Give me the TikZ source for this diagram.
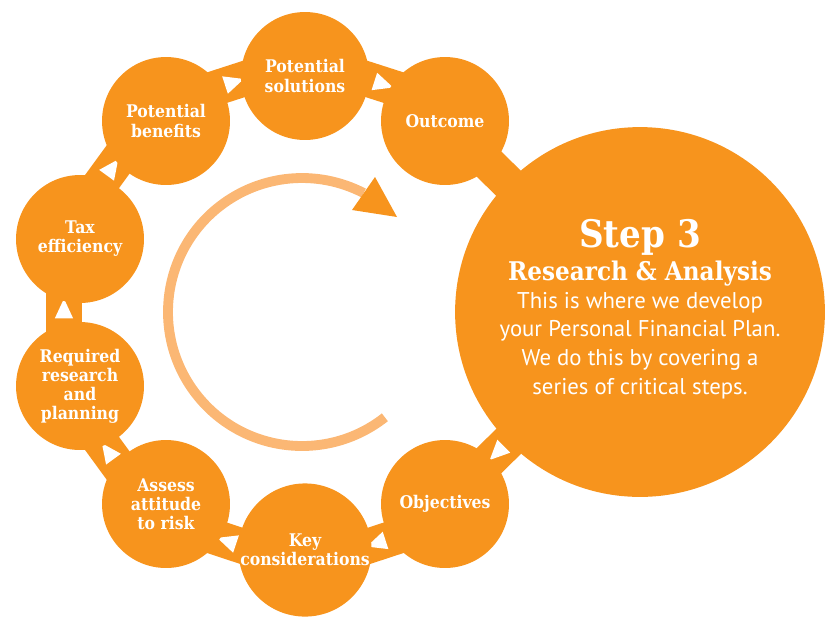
\documentclass[tikz,border=0pt]{standalone}
\usepackage{fontspec}
\usetikzlibrary{calc,shapes.geometric,backgrounds}
\newfontfamily\slabfont{DejaVu Serif Condensed}
\newfontfamily\plainfont{PT Sans}
\definecolor{stepOrange}{HTML}{F7941D}
\definecolor{ringOrange}{HTML}{FBB774}
\def\ringoff{11.4pt}
\def\ringlink(#1)(#2){\draw[band] ($(#1.center)!\ringoff!90:(#2.center)$) -- node[notch] {} ($(#2.center)!\ringoff!-90:(#1.center)$);}

\tikzset{
  stage/.style={circle, fill=stepOrange, minimum size=91pt, inner sep=0pt, text=white, align=center,
    font=\slabfont\bfseries\fontsize{12.4}{13.6}\selectfont},
  band/.style={line width=25pt, stepOrange},
  notch/.style={isosceles triangle, isosceles triangle stretches, fill=white, inner sep=0pt,
    minimum width=13pt, minimum height=14pt, sloped, allow upside down},
  steptext/.style={anchor=base, text=white, inner sep=0pt},
}

\begin{document}
\begin{tikzpicture}[x=0.025cm, y=-0.025cm]
	\useasboundingbox (0,0) rectangle (840,632);
	
	%%%%% stages %%%%%
	\node[stage] (sol) at (305,76) {Potential\\solutions};
	\node[stage] (ben) at (166,121) {Potential\\benefits};
	\node[stage] (tax) at (80,239) {Tax\\efficiency};
	\node[stage] (req) at (80,386) {Required\\research\\and\\planning};
	\node[stage] (ass) at (166,504) {Assess\\attitude\\to risk};
	\node[stage] (key) at (305,550) {Key\\considerations};
	\node[stage] (obj) at (445,504) {Objectives};
	\node[stage] (out) at (445,121) {Outcome};
	\node[stage, minimum size=263pt] (step) at (640,312) {};
	
	%%%%% step 3 text %%%%%
	\node[steptext, font=\slabfont\bfseries\fontsize{27}{27}\selectfont] (steptitle) at (640,247) {Step 3};
	\node[steptext, font=\slabfont\bfseries\fontsize{18.3}{18.3}\selectfont] (stepsub) at (640,280) {Research \& Analysis};
	\foreach \txt [count=\i] in {This is where we develop, your Personal Financial Plan., We do this by covering a, series of critical steps.}
		\node[steptext, font=\plainfont\fontsize{16.2}{16.2}\selectfont] (body\i) at (640,{279.3+28.7*\i}) {\txt};
	
	%%%%% links %%%%%
	\begin{scope}[on background layer]
		\ringlink(key)(ass)
		\ringlink(ass)(req)
		\ringlink(req)(tax)
		\ringlink(tax)(ben)
		\ringlink(ben)(sol)
		\ringlink(sol)(out)
		\ringlink(obj)(key)
		\draw[band] (out.center) -- (step.center);
		\draw[band] (step.center) -- node[notch, pos=0.72] {} (obj.center);
	\end{scope}
	
	%%%%% inner cycle arrow %%%%%
	\draw[ringOrange, line width=7pt] (302,312) ++(51.8:134) arc (51.8:297.4:134);
	\fill[stepOrange] (352,210) -- (375,177) -- (397,217) -- cycle;
\end{tikzpicture}
\end{document}
